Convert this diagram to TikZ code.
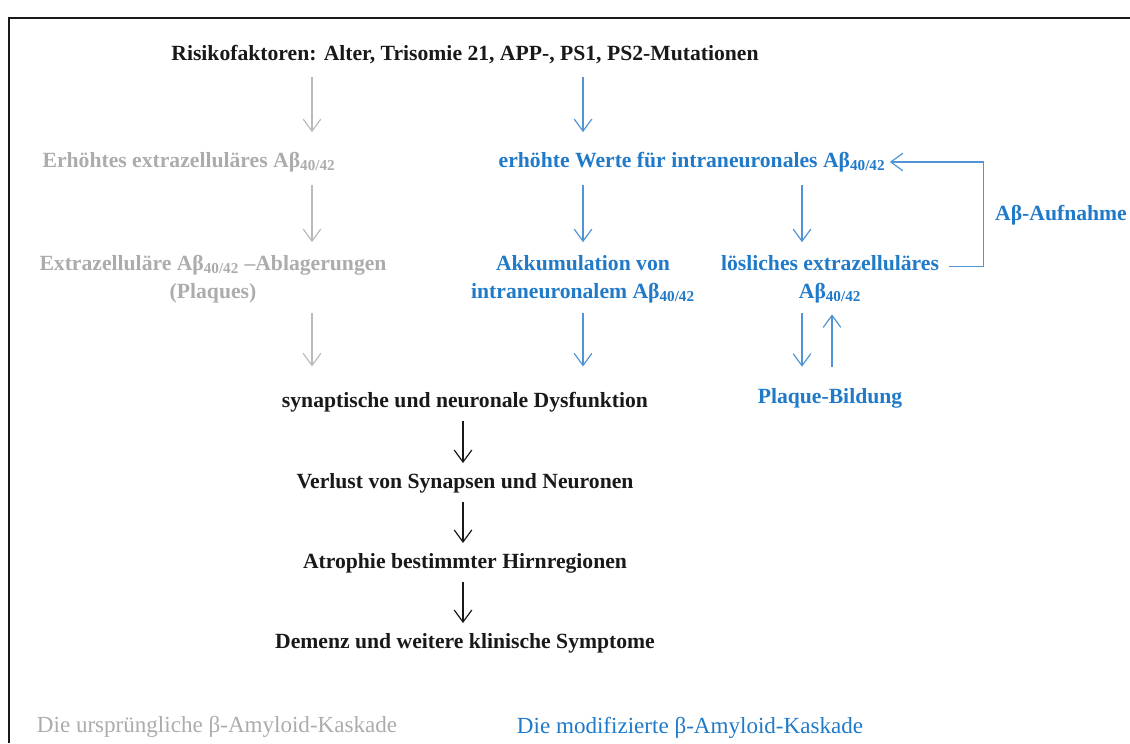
\documentclass[tikz,border=0pt]{standalone}
\usepackage{fontspec}
\setmainfont{Liberation Serif}
\usetikzlibrary{arrows.meta}
\definecolor{inkblack}{RGB}{25,25,25}
\definecolor{cascgrey}{RGB}{172,172,172}
\definecolor{arrgrey}{RGB}{185,185,185}
\definecolor{cascblue}{RGB}{32,122,200}
\definecolor{arrblue}{RGB}{80,148,214}

\begin{document}
\begin{tikzpicture}[
  x=0.025cm, y=-0.025cm,
  font=\fontsize{15.4}{20}\selectfont\bfseries,
  txt/.style={inner sep=0pt, align=center},
  oldtxt/.style={txt, text=cascgrey},
  newtxt/.style={txt, text=cascblue},
  comtxt/.style={txt, text=inkblack},
  captxt/.style={font=\fontsize{16.4}{20}\selectfont},
  arr/.style={-{Straight Barb[length=3mm, width=4.4mm]}, line width=0.85pt, shorten <=9pt, shorten >=9pt},
  oldarr/.style={arr, draw=arrgrey},
  newarr/.style={arr, draw=arrblue},
  comarr/.style={arr, draw=inkblack}
]
\useasboundingbox (0,0) rectangle (1130,743);
\draw[inkblack, line width=1.4pt] (9,743) -- (9,18) -- (1130,18);

% columns of the arrows
\coordinate (oldcol) at (312,0);
\coordinate (newcol) at (583,0);
\coordinate (loescol) at (802,0);
\coordinate (backcol) at (832,0);
\coordinate (comcol) at (463,0);

\node[comtxt] (risk) at (465,55) {Risikofaktoren: Alter, Trisomie 21, APP-, PS1, PS2-Mutationen};

% original cascade
\node[oldtxt] (erh) at (189,162) {Erhöhtes extrazelluläres Aβ\textsubscript{40/42}};
\node[oldtxt] (abl) at (213,279) {Extrazelluläre Aβ\textsubscript{40/42} –Ablagerungen\\(Plaques)};

% modified cascade
\node[newtxt] (intra) at (692,162) {erhöhte Werte für intraneuronales Aβ\textsubscript{40/42}};
\node[newtxt] (akk) at (583,279) {Akkumulation von\\intraneuronalem Aβ\textsubscript{40/42}};
\node[newtxt] (loes) at (830,279) {lösliches extrazelluläres\\Aβ\textsubscript{40/42}};
\node[newtxt] (aufn) at (1061,215) {Aβ-Aufnahme};
\node[newtxt] (plaq) at (830,398) {Plaque-Bildung};

% common end
\node[comtxt] (dys) at (465,402) {synaptische und neuronale Dysfunktion};
\node[comtxt] (verl) at (465,483) {Verlust von Synapsen und Neuronen};
\node[comtxt] (atro) at (465,563) {Atrophie bestimmter Hirnregionen};
\node[comtxt] (dem) at (465,643) {Demenz und weitere klinische Symptome};

\node[oldtxt, captxt] (oldcap) at (217,727) {Die ursprüngliche β-Amyloid-Kaskade};
\node[newtxt, captxt] (newcap) at (690,728) {Die modifizierte β-Amyloid-Kaskade};

\draw[oldarr, shorten >=14pt] (risk.south -| oldcol) -- (erh.north -| oldcol);
\draw[oldarr] (erh.south -| oldcol) -- (abl.north -| oldcol);
\draw[oldarr, shorten <=7pt, shorten >=18pt] (abl.south -| oldcol) -- (dys.north -| oldcol);

\draw[newarr, shorten >=14pt] (risk.south -| newcol) -- (intra.north -| newcol);
\draw[newarr] (intra.south -| newcol) -- (akk.north -| newcol);
\draw[newarr] (intra.south -| loescol) -- (loes.north -| loescol);
\draw[newarr, shorten <=7pt, shorten >=18pt] (akk.south -| newcol) -- (dys.north -| newcol);
\draw[newarr, shorten <=7pt, shorten >=15pt] (loes.south -| loescol) -- (plaq.north -| loescol);
\draw[newarr, shorten <=15pt, shorten >=8pt] (plaq.north -| backcol) -- (loes.south -| backcol);
\draw[newarr, shorten <=7pt, shorten >=3pt] ([yshift=9pt]loes.east) -- ++(44,0) |- (intra.east);

\draw[comarr, shorten <=6pt, shorten >=7pt] (dys.south -| comcol) -- (verl.north -| comcol);
\draw[comarr, shorten <=6pt, shorten >=7pt] (verl.south -| comcol) -- (atro.north -| comcol);
\draw[comarr, shorten <=6pt, shorten >=7pt] (atro.south -| comcol) -- (dem.north -| comcol);
\end{tikzpicture}
\end{document}
